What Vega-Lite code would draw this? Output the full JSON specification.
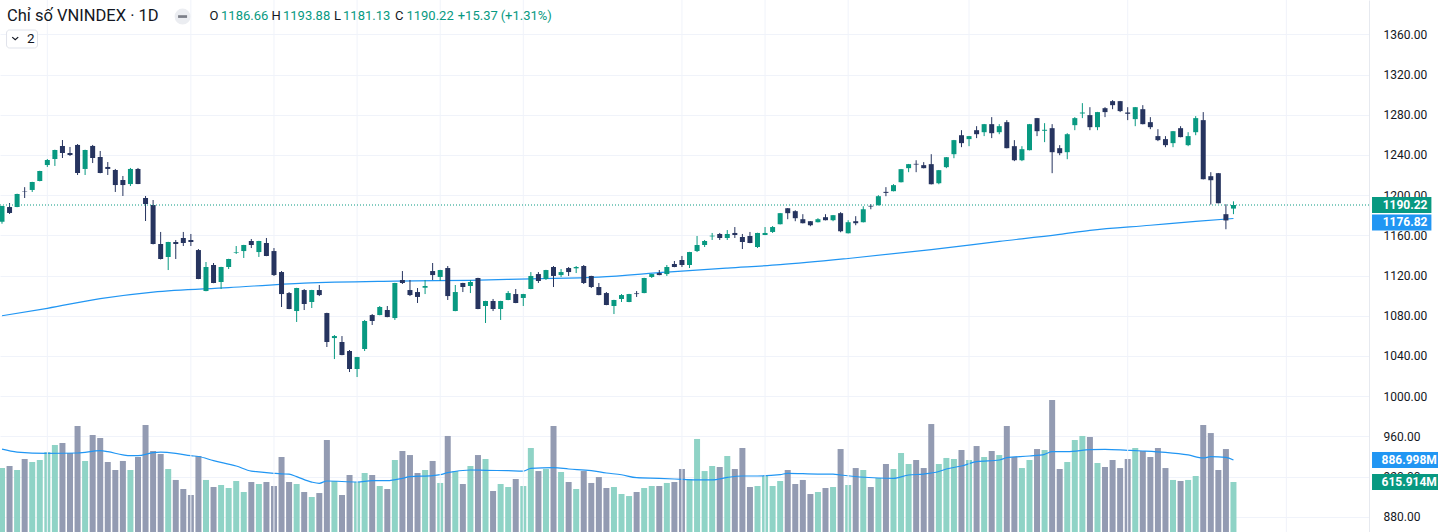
{
  "$schema": "https://vega.github.io/schema/vega-lite/v6.json",
  "width": 1369,
  "height": 532,
  "autosize": "none",
  "padding": {"left": 0, "top": 0, "right": 69, "bottom": 0},
  "background": "#ffffff",
  "config": {"view": {"stroke": null}, "font": "Roboto", "scale": {"continuousPadding": 0}},
  "datasets": {
    "candles": [
      {"i":0,"o":1173.6,"h":1189.5,"l":1171.6,"c":1189.2,"v":788},
      {"i":1,"o":1188.2,"h":1192.2,"l":1181.3,"c":1182.3,"v":813},
      {"i":2,"o":1188.2,"h":1201.5,"l":1188.0,"c":1201.2,"v":764},
      {"i":3,"o":1204.0,"h":1208.0,"l":1197.2,"c":1203.6,"v":899},
      {"i":4,"o":1205.2,"h":1213.3,"l":1203.2,"c":1213.1,"v":862},
      {"i":5,"o":1214.1,"h":1224.3,"l":1213.8,"c":1224.1,"v":887},
      {"i":6,"o":1230.0,"h":1236.0,"l":1228.1,"c":1235.0,"v":985},
      {"i":7,"o":1236.0,"h":1245.3,"l":1229.1,"c":1245.0,"v":1072},
      {"i":8,"o":1249.0,"h":1254.9,"l":1237.0,"c":1242.0,"v":1096},
      {"i":9,"o":1242.0,"h":1248.0,"l":1239.0,"c":1240.0,"v":973},
      {"i":10,"o":1250.0,"h":1250.9,"l":1220.1,"c":1222.1,"v":1306},
      {"i":11,"o":1226.1,"h":1245.3,"l":1220.1,"c":1245.0,"v":875},
      {"i":12,"o":1249.0,"h":1250.0,"l":1232.0,"c":1237.0,"v":1195},
      {"i":13,"o":1238.0,"h":1244.0,"l":1221.8,"c":1222.1,"v":1158},
      {"i":14,"o":1228.1,"h":1233.0,"l":1220.1,"c":1226.1,"v":862},
      {"i":15,"o":1225.1,"h":1226.1,"l":1203.2,"c":1210.1,"v":764},
      {"i":16,"o":1215.1,"h":1219.1,"l":1199.2,"c":1210.1,"v":875},
      {"i":17,"o":1211.1,"h":1227.1,"l":1209.1,"c":1226.1,"v":764},
      {"i":18,"o":1226.1,"h":1227.1,"l":1211.0,"c":1211.1,"v":924},
      {"i":19,"o":1197.2,"h":1199.2,"l":1174.3,"c":1191.2,"v":1318},
      {"i":20,"o":1190.2,"h":1195.2,"l":1151.0,"c":1151.4,"v":998},
      {"i":21,"o":1151.4,"h":1163.4,"l":1136.0,"c":1136.5,"v":961},
      {"i":22,"o":1138.5,"h":1153.6,"l":1125.5,"c":1153.4,"v":776},
      {"i":23,"o":1153.4,"h":1155.4,"l":1136.5,"c":1151.4,"v":641},
      {"i":24,"o":1157.4,"h":1163.4,"l":1149.4,"c":1152.4,"v":530},
      {"i":25,"o":1155.4,"h":1161.4,"l":1149.4,"c":1153.4,"v":456},
      {"i":26,"o":1145.4,"h":1146.4,"l":1116.4,"c":1116.6,"v":936},
      {"i":27,"o":1104.6,"h":1133.5,"l":1104.4,"c":1128.5,"v":641},
      {"i":28,"o":1130.5,"h":1132.5,"l":1112.4,"c":1112.6,"v":554},
      {"i":29,"o":1113.6,"h":1128.7,"l":1106.6,"c":1128.5,"v":579},
      {"i":30,"o":1128.5,"h":1136.7,"l":1126.5,"c":1136.5,"v":542},
      {"i":31,"o":1142.8,"h":1149.4,"l":1141.5,"c":1143.4,"v":628},
      {"i":32,"o":1144.4,"h":1150.6,"l":1137.5,"c":1150.4,"v":493},
      {"i":33,"o":1154.4,"h":1156.4,"l":1147.4,"c":1150.4,"v":616},
      {"i":34,"o":1143.4,"h":1154.6,"l":1138.5,"c":1154.4,"v":591},
      {"i":35,"o":1152.4,"h":1157.4,"l":1139.3,"c":1139.5,"v":616},
      {"i":36,"o":1144.4,"h":1147.4,"l":1119.6,"c":1120.5,"v":567},
      {"i":37,"o":1123.5,"h":1124.5,"l":1088.7,"c":1101.6,"v":924},
      {"i":38,"o":1102.6,"h":1103.6,"l":1086.5,"c":1086.7,"v":616},
      {"i":39,"o":1084.7,"h":1107.8,"l":1073.8,"c":1107.6,"v":591},
      {"i":40,"o":1105.6,"h":1106.6,"l":1085.7,"c":1091.7,"v":493},
      {"i":41,"o":1093.7,"h":1105.8,"l":1087.7,"c":1105.6,"v":431},
      {"i":42,"o":1105.6,"h":1110.6,"l":1099.6,"c":1100.6,"v":480},
      {"i":43,"o":1082.7,"h":1083.0,"l":1048.9,"c":1053.9,"v":1133},
      {"i":44,"o":1057.8,"h":1060.8,"l":1036.9,"c":1059.8,"v":628},
      {"i":45,"o":1053.9,"h":1059.8,"l":1040.7,"c":1040.9,"v":456},
      {"i":46,"o":1044.9,"h":1045.9,"l":1024.0,"c":1027.0,"v":702},
      {"i":47,"o":1027.0,"h":1039.1,"l":1019.0,"c":1038.9,"v":616},
      {"i":48,"o":1046.9,"h":1075.8,"l":1044.9,"c":1074.8,"v":727},
      {"i":49,"o":1080.7,"h":1081.7,"l":1070.8,"c":1074.8,"v":702},
      {"i":50,"o":1080.7,"h":1089.7,"l":1080.5,"c":1088.7,"v":567},
      {"i":51,"o":1085.7,"h":1089.7,"l":1078.5,"c":1078.7,"v":530},
      {"i":52,"o":1077.7,"h":1112.8,"l":1075.8,"c":1112.6,"v":887},
      {"i":53,"o":1115.6,"h":1124.5,"l":1111.6,"c":1112.6,"v":998},
      {"i":54,"o":1105.6,"h":1115.6,"l":1099.6,"c":1100.6,"v":948},
      {"i":55,"o":1103.6,"h":1107.6,"l":1092.7,"c":1098.7,"v":727},
      {"i":56,"o":1107.9,"h":1115.6,"l":1101.6,"c":1109.6,"v":764},
      {"i":57,"o":1124.5,"h":1132.5,"l":1115.6,"c":1120.5,"v":875},
      {"i":58,"o":1118.6,"h":1125.7,"l":1114.6,"c":1125.5,"v":604},
      {"i":59,"o":1127.5,"h":1129.5,"l":1095.7,"c":1099.6,"v":1183},
      {"i":60,"o":1084.7,"h":1110.6,"l":1084.5,"c":1103.6,"v":751},
      {"i":61,"o":1112.6,"h":1112.8,"l":1103.6,"c":1108.6,"v":591},
      {"i":62,"o":1109.6,"h":1115.6,"l":1102.6,"c":1113.6,"v":813},
      {"i":63,"o":1117.6,"h":1117.8,"l":1086.5,"c":1086.7,"v":948},
      {"i":64,"o":1089.7,"h":1094.9,"l":1072.8,"c":1094.7,"v":899},
      {"i":65,"o":1094.7,"h":1096.7,"l":1084.7,"c":1086.7,"v":505},
      {"i":66,"o":1086.7,"h":1094.9,"l":1075.8,"c":1094.7,"v":591},
      {"i":67,"o":1095.7,"h":1104.6,"l":1095.5,"c":1102.6,"v":554},
      {"i":68,"o":1101.6,"h":1106.6,"l":1092.5,"c":1092.7,"v":653},
      {"i":69,"o":1097.7,"h":1101.8,"l":1089.7,"c":1101.6,"v":567},
      {"i":70,"o":1106.6,"h":1123.5,"l":1106.4,"c":1119.6,"v":1035},
      {"i":71,"o":1121.5,"h":1123.5,"l":1112.6,"c":1114.6,"v":751},
      {"i":72,"o":1116.6,"h":1125.7,"l":1115.6,"c":1125.5,"v":776},
      {"i":73,"o":1128.5,"h":1129.5,"l":1108.6,"c":1119.6,"v":1306},
      {"i":74,"o":1120.5,"h":1126.5,"l":1118.6,"c":1123.5,"v":739},
      {"i":75,"o":1127.5,"h":1128.5,"l":1119.6,"c":1123.5,"v":616},
      {"i":76,"o":1127.2,"h":1129.5,"l":1122.5,"c":1128.5,"v":530},
      {"i":77,"o":1129.5,"h":1130.5,"l":1111.6,"c":1112.6,"v":751},
      {"i":78,"o":1119.6,"h":1119.8,"l":1107.6,"c":1108.6,"v":604},
      {"i":79,"o":1108.6,"h":1112.6,"l":1100.4,"c":1100.6,"v":677},
      {"i":80,"o":1102.6,"h":1103.6,"l":1090.5,"c":1090.7,"v":542},
      {"i":81,"o":1089.7,"h":1095.9,"l":1081.7,"c":1095.7,"v":554},
      {"i":82,"o":1096.7,"h":1101.6,"l":1093.7,"c":1100.6,"v":468},
      {"i":83,"o":1093.7,"h":1101.8,"l":1093.5,"c":1101.6,"v":443},
      {"i":84,"o":1102.3,"h":1104.6,"l":1098.7,"c":1101.6,"v":493},
      {"i":85,"o":1102.6,"h":1117.8,"l":1102.4,"c":1117.6,"v":542},
      {"i":86,"o":1118.6,"h":1121.7,"l":1117.6,"c":1121.5,"v":567},
      {"i":87,"o":1122.5,"h":1125.5,"l":1120.3,"c":1120.5,"v":567},
      {"i":88,"o":1121.5,"h":1130.5,"l":1119.6,"c":1128.5,"v":604},
      {"i":89,"o":1131.5,"h":1134.5,"l":1128.3,"c":1128.5,"v":616},
      {"i":90,"o":1135.5,"h":1139.5,"l":1128.5,"c":1130.5,"v":776},
      {"i":91,"o":1130.5,"h":1143.6,"l":1127.5,"c":1143.4,"v":653},
      {"i":92,"o":1144.4,"h":1159.4,"l":1143.4,"c":1150.4,"v":1146},
      {"i":93,"o":1150.4,"h":1155.4,"l":1148.4,"c":1154.4,"v":751},
      {"i":94,"o":1159.0,"h":1162.4,"l":1155.4,"c":1159.7,"v":813},
      {"i":95,"o":1161.4,"h":1162.4,"l":1155.4,"c":1157.4,"v":801},
      {"i":96,"o":1157.4,"h":1165.3,"l":1155.4,"c":1161.4,"v":936},
      {"i":97,"o":1162.4,"h":1168.3,"l":1157.4,"c":1160.4,"v":776},
      {"i":98,"o":1158.4,"h":1161.4,"l":1146.4,"c":1153.4,"v":1035},
      {"i":99,"o":1159.4,"h":1163.4,"l":1152.2,"c":1152.4,"v":554},
      {"i":100,"o":1148.4,"h":1162.6,"l":1147.4,"c":1162.4,"v":567},
      {"i":101,"o":1160.4,"h":1168.3,"l":1160.2,"c":1162.4,"v":690},
      {"i":102,"o":1163.4,"h":1169.3,"l":1162.4,"c":1168.3,"v":567},
      {"i":103,"o":1171.1,"h":1182.3,"l":1170.9,"c":1182.1,"v":628},
      {"i":104,"o":1187.0,"h":1187.2,"l":1176.1,"c":1182.1,"v":764},
      {"i":105,"o":1184.1,"h":1185.0,"l":1174.1,"c":1177.1,"v":591},
      {"i":106,"o":1176.1,"h":1181.1,"l":1171.9,"c":1172.1,"v":641},
      {"i":107,"o":1174.1,"h":1174.3,"l":1169.1,"c":1170.1,"v":468},
      {"i":108,"o":1173.1,"h":1177.1,"l":1172.9,"c":1176.1,"v":493},
      {"i":109,"o":1178.1,"h":1181.1,"l":1174.9,"c":1175.1,"v":542},
      {"i":110,"o":1175.1,"h":1180.3,"l":1174.1,"c":1180.1,"v":554},
      {"i":111,"o":1182.1,"h":1183.1,"l":1163.1,"c":1164.1,"v":1022},
      {"i":112,"o":1162.1,"h":1175.1,"l":1161.9,"c":1173.1,"v":579},
      {"i":113,"o":1174.1,"h":1179.1,"l":1170.1,"c":1172.1,"v":788},
      {"i":114,"o":1173.1,"h":1189.0,"l":1172.9,"c":1186.0,"v":764},
      {"i":115,"o":1189.4,"h":1191.0,"l":1186.0,"c":1188.7,"v":554},
      {"i":116,"o":1190.0,"h":1200.0,"l":1189.8,"c":1199.0,"v":665},
      {"i":117,"o":1203.3,"h":1208.0,"l":1199.0,"c":1202.3,"v":838},
      {"i":118,"o":1204.0,"h":1211.0,"l":1203.8,"c":1210.0,"v":776},
      {"i":119,"o":1212.9,"h":1226.1,"l":1212.7,"c":1225.9,"v":973},
      {"i":120,"o":1226.9,"h":1231.1,"l":1222.9,"c":1230.9,"v":838},
      {"i":121,"o":1231.2,"h":1234.8,"l":1222.9,"c":1230.5,"v":887},
      {"i":122,"o":1229.9,"h":1232.9,"l":1226.7,"c":1226.9,"v":788},
      {"i":123,"o":1230.9,"h":1240.8,"l":1210.7,"c":1210.9,"v":1330},
      {"i":124,"o":1211.9,"h":1225.1,"l":1210.9,"c":1224.9,"v":838},
      {"i":125,"o":1227.9,"h":1238.0,"l":1226.9,"c":1237.8,"v":912},
      {"i":126,"o":1240.8,"h":1255.0,"l":1236.8,"c":1254.8,"v":899},
      {"i":127,"o":1259.7,"h":1264.7,"l":1247.8,"c":1251.8,"v":1010},
      {"i":128,"o":1255.8,"h":1259.0,"l":1248.8,"c":1258.8,"v":887},
      {"i":129,"o":1264.7,"h":1268.7,"l":1256.8,"c":1260.7,"v":1059},
      {"i":130,"o":1262.7,"h":1270.9,"l":1258.8,"c":1270.7,"v":924},
      {"i":131,"o":1270.7,"h":1277.7,"l":1256.8,"c":1261.7,"v":998},
      {"i":132,"o":1262.7,"h":1270.7,"l":1260.7,"c":1268.7,"v":948},
      {"i":133,"o":1272.7,"h":1274.7,"l":1246.6,"c":1246.8,"v":1306},
      {"i":134,"o":1248.8,"h":1254.8,"l":1233.9,"c":1234.8,"v":924},
      {"i":135,"o":1234.8,"h":1248.8,"l":1233.9,"c":1245.8,"v":788},
      {"i":136,"o":1244.8,"h":1270.9,"l":1244.6,"c":1270.7,"v":887},
      {"i":137,"o":1276.7,"h":1276.9,"l":1258.8,"c":1263.7,"v":1022},
      {"i":138,"o":1264.1,"h":1271.7,"l":1252.8,"c":1265.1,"v":1010},
      {"i":139,"o":1266.7,"h":1270.7,"l":1221.9,"c":1242.8,"v":1626},
      {"i":140,"o":1246.8,"h":1249.8,"l":1239.8,"c":1241.8,"v":776},
      {"i":141,"o":1242.8,"h":1261.7,"l":1235.8,"c":1260.7,"v":862},
      {"i":142,"o":1269.7,"h":1277.7,"l":1264.7,"c":1276.7,"v":1133},
      {"i":143,"o":1281.3,"h":1291.6,"l":1276.7,"c":1282.3,"v":1183},
      {"i":144,"o":1279.7,"h":1287.6,"l":1264.7,"c":1267.7,"v":1170},
      {"i":145,"o":1267.7,"h":1282.9,"l":1264.7,"c":1282.7,"v":850},
      {"i":146,"o":1286.6,"h":1287.6,"l":1277.7,"c":1282.7,"v":801},
      {"i":147,"o":1293.6,"h":1294.6,"l":1285.6,"c":1289.6,"v":887},
      {"i":148,"o":1293.6,"h":1293.8,"l":1282.7,"c":1283.7,"v":788},
      {"i":149,"o":1282.3,"h":1287.6,"l":1274.7,"c":1281.0,"v":899},
      {"i":150,"o":1275.7,"h":1287.8,"l":1268.7,"c":1287.6,"v":1035},
      {"i":151,"o":1285.6,"h":1289.6,"l":1270.5,"c":1270.7,"v":998},
      {"i":152,"o":1272.7,"h":1277.7,"l":1265.7,"c":1267.7,"v":924},
      {"i":153,"o":1258.8,"h":1265.7,"l":1253.8,"c":1254.8,"v":1035},
      {"i":154,"o":1255.8,"h":1258.8,"l":1247.8,"c":1249.8,"v":788},
      {"i":155,"o":1251.8,"h":1263.9,"l":1247.8,"c":1263.7,"v":641},
      {"i":156,"o":1266.7,"h":1268.7,"l":1257.6,"c":1257.8,"v":628},
      {"i":157,"o":1249.8,"h":1262.7,"l":1248.8,"c":1258.8,"v":641},
      {"i":158,"o":1262.7,"h":1278.7,"l":1259.7,"c":1276.7,"v":690},
      {"i":159,"o":1274.7,"h":1282.7,"l":1215.7,"c":1215.9,"v":1318},
      {"i":160,"o":1218.9,"h":1222.9,"l":1190.7,"c":1214.9,"v":1219},
      {"i":161,"o":1221.9,"h":1222.1,"l":1191.8,"c":1192.0,"v":764},
      {"i":162,"o":1181.1,"h":1191.0,"l":1166.1,"c":1174.85,"v":1022},
      {"i":163,"o":1186.66,"h":1193.88,"l":1181.13,"c":1190.22,"v":615.914}
    ],
    "ma": [
      {"i":0,"m":1080.0},{"i":6,"m":1087.4},{"i":13,"m":1097.0},{"i":20,"m":1103.5},
      {"i":30,"m":1108.0},{"i":40,"m":1112.5},{"i":52,"m":1114.5},{"i":62,"m":1115.3},
      {"i":70,"m":1116.8},{"i":79,"m":1118.5},{"i":88,"m":1123.5},{"i":96,"m":1127.5},
      {"i":103,"m":1130.8},{"i":112,"m":1137.0},{"i":123,"m":1145.9},{"i":132,"m":1154.0},
      {"i":140,"m":1161.0},{"i":144,"m":1165.0},{"i":152,"m":1170.1},{"i":158,"m":1174.0},
      {"i":163,"m":1176.82}
    ],
    "vma": [
      {"i":0,"v":1020},{"i":2,"v":985},{"i":6,"v":969},{"i":10,"v":973},{"i":13,"v":1002},
      {"i":14,"v":990},{"i":16,"v":950},{"i":17,"v":940},{"i":18,"v":940},{"i":20,"v":977},
      {"i":21,"v":983},{"i":23,"v":969},{"i":25,"v":940},{"i":26,"v":930},{"i":28,"v":879},
      {"i":31,"v":813},{"i":33,"v":750},{"i":34,"v":740},{"i":36,"v":723},{"i":37,"v":716},
      {"i":38,"v":712},{"i":39,"v":682},{"i":41,"v":615},{"i":42,"v":600},{"i":43,"v":628},
      {"i":47,"v":616},{"i":49,"v":632},{"i":51,"v":632},{"i":53,"v":661},{"i":54,"v":682},
      {"i":57,"v":694},{"i":58,"v":706},{"i":59,"v":731},{"i":62,"v":764},{"i":64,"v":760},
      {"i":67,"v":755},{"i":69,"v":751},{"i":70,"v":784},{"i":73,"v":792},{"i":75,"v":776},
      {"i":78,"v":755},{"i":80,"v":727},{"i":82,"v":705},{"i":84,"v":669},{"i":87,"v":661},
      {"i":90,"v":649},{"i":92,"v":641},{"i":94,"v":641},{"i":96,"v":673},{"i":98,"v":690},
      {"i":100,"v":690},{"i":103,"v":706},{"i":104,"v":723},{"i":108,"v":714},{"i":110,"v":714},
      {"i":111,"v":702},{"i":116,"v":665},{"i":118,"v":661},{"i":120,"v":702},{"i":122,"v":714},
      {"i":124,"v":745},{"i":125,"v":776},{"i":127,"v":813},{"i":129,"v":866},{"i":132,"v":887},
      {"i":133,"v":916},{"i":136,"v":936},{"i":138,"v":957},{"i":139,"v":990},{"i":141,"v":990},
      {"i":144,"v":1014},{"i":146,"v":1018},{"i":149,"v":1006},{"i":151,"v":998},{"i":154,"v":981},
      {"i":157,"v":949},{"i":159,"v":912},{"i":160,"v":928},{"i":162,"v":920},{"i":163,"v":886.998}
    ],
    "grid": [
      {"i":6},{"i":25},{"i":36},{"i":47},{"i":58},{"i":69},{"i":90},{"i":101},{"i":112},{"i":128},{"i":149},{"i":170}
    ],
    "lastPrice": [{"p":1190.22,"t":"1190.22"}],
    "lastMa": [{"p":1176.82,"t":"1176.82"}],
    "lastVol": [{"v":615.914,"t":"615.914M"}],
    "lastVma": [{"v":886.998,"t":"886.998M"}],
    "one": [{}]
  },
  "resolve": {"scale": {"y": "independent"}},
  "layer": [
    {
      "layer": [
        {
          "data": {"name": "candles"},
          "mark": {"type": "bar", "width": 6},
          "encoding": {
            "x": {"field": "i", "type": "quantitative", "scale": {"domain": [-0.2647, 180.94], "nice": false, "zero": false, "padding": 0}, "axis": null},
            "y": {"field": "v", "type": "quantitative", "scale": {"domain": [0, 6553.3], "nice": false, "padding": 0}, "axis": null},
            "color": {"condition": {"test": "datum.c >= datum.o", "value": "#8fd3c6"}, "value": "#939bb2"}
          }
        },
        {
          "data": {"name": "vma"},
          "mark": {"type": "line", "color": "#2196f3", "strokeWidth": 1.2, "interpolate": "monotone"},
          "encoding": {
            "x": {"field": "i", "type": "quantitative", "scale": {"domain": [-0.2647, 180.94], "nice": false, "zero": false, "padding": 0}, "axis": null},
            "y": {"field": "v", "type": "quantitative", "scale": {"domain": [0, 6553.3], "nice": false, "padding": 0}, "axis": null}
          }
        },
        {
          "data": {"name": "lastVma"},
          "mark": {"type": "bar", "height": 16, "color": "#2196f3"},
          "encoding": {
            "x": {"datum": 181.34, "type": "quantitative", "scale": {"domain": [-0.2647, 180.94], "nice": false, "zero": false, "padding": 0}},
            "x2": {"datum": 190.1},
            "y": {"field": "v", "type": "quantitative", "scale": {"domain": [0, 6553.3], "nice": false, "padding": 0}, "axis": null}
          }
        },
        {
          "data": {"name": "lastVma"},
          "mark": {"type": "text", "align": "left", "baseline": "middle", "color": "#ffffff", "fontWeight": "bold", "fontSize": 12},
          "encoding": {
            "x": {"datum": 182.6, "type": "quantitative", "scale": {"domain": [-0.2647, 180.94], "nice": false, "zero": false, "padding": 0}},
            "y": {"field": "v", "type": "quantitative", "scale": {"domain": [0, 6553.3], "nice": false, "padding": 0}, "axis": null},
            "text": {"field": "t"}
          }
        },
        {
          "data": {"name": "lastVol"},
          "mark": {"type": "bar", "height": 16, "color": "#089981"},
          "encoding": {
            "x": {"datum": 181.34, "type": "quantitative", "scale": {"domain": [-0.2647, 180.94], "nice": false, "zero": false, "padding": 0}},
            "x2": {"datum": 190.1},
            "y": {"field": "v", "type": "quantitative", "scale": {"domain": [0, 6553.3], "nice": false, "padding": 0}, "axis": null}
          }
        },
        {
          "data": {"name": "lastVol"},
          "mark": {"type": "text", "align": "left", "baseline": "middle", "color": "#ffffff", "fontWeight": "bold", "fontSize": 12},
          "encoding": {
            "x": {"datum": 182.6, "type": "quantitative", "scale": {"domain": [-0.2647, 180.94], "nice": false, "zero": false, "padding": 0}},
            "y": {"field": "v", "type": "quantitative", "scale": {"domain": [0, 6553.3], "nice": false, "padding": 0}, "axis": null},
            "text": {"field": "t"}
          }
        }
      ]
    },
    {
      "layer": [
        {
          "data": {"name": "grid"},
          "mark": {"type": "rule", "color": "#f0f3fa", "strokeWidth": 1},
          "encoding": {
            "x": {"field": "i", "type": "quantitative", "scale": {"domain": [-0.2647, 180.94], "nice": false, "zero": false, "padding": 0}, "axis": null}
          }
        },
        {
          "data": {"name": "ma"},
          "mark": {"type": "line", "color": "#2196f3", "strokeWidth": 1.2, "interpolate": "monotone"},
          "encoding": {
            "x": {"field": "i", "type": "quantitative", "scale": {"domain": [-0.2647, 180.94], "nice": false, "zero": false, "padding": 0}, "axis": null},
            "y": {"field": "m", "type": "quantitative", "scale": {"domain": [864.77, 1394.27], "nice": false, "zero": false, "padding": 0},
              "axis": {"orient": "right", "values": [880, 920, 960, 1000, 1040, 1080, 1120, 1160, 1200, 1240, 1280, 1320, 1360], "format": ".2f", "grid": true, "gridColor": "#f0f3fa", "domain": true, "domainColor": "#e6e9ef", "ticks": false, "labelPadding": 14, "labelFontSize": 12, "labelColor": "#131722", "labelFont": "Roboto", "title": null, "labelOverlap": false, "labelBound": false, "labelFlush": false}}
          }
        },
        {
          "data": {"name": "candles"},
          "mark": {"type": "rule", "strokeWidth": 1},
          "encoding": {
            "x": {"field": "i", "type": "quantitative", "scale": {"domain": [-0.2647, 180.94], "nice": false, "zero": false, "padding": 0}, "axis": null},
            "y": {"field": "l", "type": "quantitative", "scale": {"domain": [864.77, 1394.27], "nice": false, "zero": false, "padding": 0}},
            "y2": {"field": "h"},
            "color": {"condition": {"test": "datum.c >= datum.o", "value": "#089981"}, "value": "#26345f"}
          }
        },
        {
          "data": {"name": "candles"},
          "mark": {"type": "bar", "width": 5},
          "encoding": {
            "x": {"field": "i", "type": "quantitative", "scale": {"domain": [-0.2647, 180.94], "nice": false, "zero": false, "padding": 0}, "axis": null},
            "y": {"field": "o", "type": "quantitative", "scale": {"domain": [864.77, 1394.27], "nice": false, "zero": false, "padding": 0}},
            "y2": {"field": "c"},
            "color": {"condition": {"test": "datum.c >= datum.o", "value": "#089981"}, "value": "#26345f"}
          }
        },
        {
          "data": {"name": "lastPrice"},
          "mark": {"type": "rule", "color": "#089981", "strokeWidth": 1, "strokeDash": [1, 2]},
          "encoding": {
            "y": {"field": "p", "type": "quantitative", "scale": {"domain": [864.77, 1394.27], "nice": false, "zero": false, "padding": 0}}
          }
        },
        {
          "data": {"name": "lastPrice"},
          "mark": {"type": "bar", "height": 16, "color": "#089981"},
          "encoding": {
            "x": {"datum": 181.34, "type": "quantitative", "scale": {"domain": [-0.2647, 180.94], "nice": false, "zero": false, "padding": 0}},
            "x2": {"datum": 189.2},
            "y": {"field": "p", "type": "quantitative", "scale": {"domain": [864.77, 1394.27], "nice": false, "zero": false, "padding": 0}}
          }
        },
        {
          "data": {"name": "lastPrice"},
          "mark": {"type": "text", "align": "left", "baseline": "middle", "color": "#ffffff", "fontWeight": "bold", "fontSize": 12},
          "encoding": {
            "x": {"datum": 182.75, "type": "quantitative", "scale": {"domain": [-0.2647, 180.94], "nice": false, "zero": false, "padding": 0}},
            "y": {"field": "p", "type": "quantitative", "scale": {"domain": [864.77, 1394.27], "nice": false, "zero": false, "padding": 0}},
            "text": {"field": "t"}
          }
        },
        {
          "data": {"name": "lastMa"},
          "mark": {"type": "bar", "height": 16, "color": "#2196f3", "yOffset": 4},
          "encoding": {
            "x": {"datum": 181.34, "type": "quantitative", "scale": {"domain": [-0.2647, 180.94], "nice": false, "zero": false, "padding": 0}},
            "x2": {"datum": 189.2},
            "y": {"field": "p", "type": "quantitative", "scale": {"domain": [864.77, 1394.27], "nice": false, "zero": false, "padding": 0}}
          }
        },
        {
          "data": {"name": "lastMa"},
          "mark": {"type": "text", "align": "left", "baseline": "middle", "color": "#ffffff", "fontWeight": "bold", "fontSize": 12, "yOffset": 4},
          "encoding": {
            "x": {"datum": 182.75, "type": "quantitative", "scale": {"domain": [-0.2647, 180.94], "nice": false, "zero": false, "padding": 0}},
            "y": {"field": "p", "type": "quantitative", "scale": {"domain": [864.77, 1394.27], "nice": false, "zero": false, "padding": 0}},
            "text": {"field": "t"}
          }
        },
        {
          "data": {"name": "one"},
          "mark": {"type": "text", "align": "left", "baseline": "middle", "color": "#131722", "fontSize": 16.5},
          "encoding": {
            "x": {"datum": 0.66, "type": "quantitative", "scale": {"domain": [-0.2647, 180.94], "nice": false, "zero": false, "padding": 0}},
            "y": {"datum": 1378.3, "type": "quantitative", "scale": {"domain": [864.77, 1394.27], "nice": false, "zero": false, "padding": 0}},
            "text": {"value": "Chỉ số VNINDEX · 1D"}
          }
        },
        {
          "data": {"name": "one"},
          "mark": {"type": "point", "shape": "circle", "filled": true, "color": "#ebedf1", "size": 254, "opacity": 1},
          "encoding": {
            "x": {"datum": 23.9, "type": "quantitative", "scale": {"domain": [-0.2647, 180.94], "nice": false, "zero": false, "padding": 0}},
            "y": {"datum": 1377.8, "type": "quantitative", "scale": {"domain": [864.77, 1394.27], "nice": false, "zero": false, "padding": 0}}
          }
        },
        {
          "data": {"name": "one"},
          "mark": {"type": "point", "shape": "M-1,-0.3L1,-0.3L1,0.3L-1,0.3Z", "filled": true, "color": "#7c7f88", "size": 81, "opacity": 1},
          "encoding": {
            "x": {"datum": 23.9, "type": "quantitative", "scale": {"domain": [-0.2647, 180.94], "nice": false, "zero": false, "padding": 0}},
            "y": {"datum": 1377.8, "type": "quantitative", "scale": {"domain": [864.77, 1394.27], "nice": false, "zero": false, "padding": 0}}
          }
        },
        {
          "data": {"name": "one"},
          "mark": {"type": "text", "align": "left", "baseline": "middle", "color": "#131722", "fontSize": 13},
          "encoding": {
            "x": {"datum": 27.46, "type": "quantitative", "scale": {"domain": [-0.2647, 180.94], "nice": false, "zero": false, "padding": 0}},
            "y": {"datum": 1378.3, "type": "quantitative", "scale": {"domain": [864.77, 1394.27], "nice": false, "zero": false, "padding": 0}},
            "text": {"value": "O"}
          }
        },
        {
          "data": {"name": "one"},
          "mark": {"type": "text", "align": "left", "baseline": "middle", "color": "#089981", "fontSize": 13},
          "encoding": {
            "x": {"datum": 28.99, "type": "quantitative", "scale": {"domain": [-0.2647, 180.94], "nice": false, "zero": false, "padding": 0}},
            "y": {"datum": 1378.3, "type": "quantitative", "scale": {"domain": [864.77, 1394.27], "nice": false, "zero": false, "padding": 0}},
            "text": {"value": "1186.66"}
          }
        },
        {
          "data": {"name": "one"},
          "mark": {"type": "text", "align": "left", "baseline": "middle", "color": "#131722", "fontSize": 13},
          "encoding": {
            "x": {"datum": 35.67, "type": "quantitative", "scale": {"domain": [-0.2647, 180.94], "nice": false, "zero": false, "padding": 0}},
            "y": {"datum": 1378.3, "type": "quantitative", "scale": {"domain": [864.77, 1394.27], "nice": false, "zero": false, "padding": 0}},
            "text": {"value": "H"}
          }
        },
        {
          "data": {"name": "one"},
          "mark": {"type": "text", "align": "left", "baseline": "middle", "color": "#089981", "fontSize": 13},
          "encoding": {
            "x": {"datum": 37.19, "type": "quantitative", "scale": {"domain": [-0.2647, 180.94], "nice": false, "zero": false, "padding": 0}},
            "y": {"datum": 1378.3, "type": "quantitative", "scale": {"domain": [864.77, 1394.27], "nice": false, "zero": false, "padding": 0}},
            "text": {"value": "1193.88"}
          }
        },
        {
          "data": {"name": "one"},
          "mark": {"type": "text", "align": "left", "baseline": "middle", "color": "#131722", "fontSize": 13},
          "encoding": {
            "x": {"datum": 43.94, "type": "quantitative", "scale": {"domain": [-0.2647, 180.94], "nice": false, "zero": false, "padding": 0}},
            "y": {"datum": 1378.3, "type": "quantitative", "scale": {"domain": [864.77, 1394.27], "nice": false, "zero": false, "padding": 0}},
            "text": {"value": "L"}
          }
        },
        {
          "data": {"name": "one"},
          "mark": {"type": "text", "align": "left", "baseline": "middle", "color": "#089981", "fontSize": 13},
          "encoding": {
            "x": {"datum": 45.14, "type": "quantitative", "scale": {"domain": [-0.2647, 180.94], "nice": false, "zero": false, "padding": 0}},
            "y": {"datum": 1378.3, "type": "quantitative", "scale": {"domain": [864.77, 1394.27], "nice": false, "zero": false, "padding": 0}},
            "text": {"value": "1181.13"}
          }
        },
        {
          "data": {"name": "one"},
          "mark": {"type": "text", "align": "left", "baseline": "middle", "color": "#131722", "fontSize": 13},
          "encoding": {
            "x": {"datum": 52.02, "type": "quantitative", "scale": {"domain": [-0.2647, 180.94], "nice": false, "zero": false, "padding": 0}},
            "y": {"datum": 1378.3, "type": "quantitative", "scale": {"domain": [864.77, 1394.27], "nice": false, "zero": false, "padding": 0}},
            "text": {"value": "C"}
          }
        },
        {
          "data": {"name": "one"},
          "mark": {"type": "text", "align": "left", "baseline": "middle", "color": "#089981", "fontSize": 13},
          "encoding": {
            "x": {"datum": 53.53, "type": "quantitative", "scale": {"domain": [-0.2647, 180.94], "nice": false, "zero": false, "padding": 0}},
            "y": {"datum": 1378.3, "type": "quantitative", "scale": {"domain": [864.77, 1394.27], "nice": false, "zero": false, "padding": 0}},
            "text": {"value": "1190.22"}
          }
        },
        {
          "data": {"name": "one"},
          "mark": {"type": "text", "align": "left", "baseline": "middle", "color": "#089981", "fontSize": 13},
          "encoding": {
            "x": {"datum": 60.32, "type": "quantitative", "scale": {"domain": [-0.2647, 180.94], "nice": false, "zero": false, "padding": 0}},
            "y": {"datum": 1378.3, "type": "quantitative", "scale": {"domain": [864.77, 1394.27], "nice": false, "zero": false, "padding": 0}},
            "text": {"value": "+15.37"}
          }
        },
        {
          "data": {"name": "one"},
          "mark": {"type": "text", "align": "left", "baseline": "middle", "color": "#089981", "fontSize": 13},
          "encoding": {
            "x": {"datum": 66.0, "type": "quantitative", "scale": {"domain": [-0.2647, 180.94], "nice": false, "zero": false, "padding": 0}},
            "y": {"datum": 1378.3, "type": "quantitative", "scale": {"domain": [864.77, 1394.27], "nice": false, "zero": false, "padding": 0}},
            "text": {"value": "(+1.31%)"}
          }
        },
        {
          "data": {"name": "one"},
          "mark": {"type": "rect", "fill": "#ffffff", "stroke": "#e0e3eb", "strokeWidth": 1, "cornerRadius": 3},
          "encoding": {
            "x": {"datum": 0.6, "type": "quantitative", "scale": {"domain": [-0.2647, 180.94], "nice": false, "zero": false, "padding": 0}},
            "x2": {"datum": 4.7},
            "y": {"datum": 1364.4, "type": "quantitative", "scale": {"domain": [864.77, 1394.27], "nice": false, "zero": false, "padding": 0}},
            "y2": {"datum": 1346.5}
          }
        },
        {
          "data": {"name": "one"},
          "mark": {"type": "point", "shape": "M-1,-0.45L0,0.45L1,-0.45", "filled": false, "color": "#131722", "strokeWidth": 1.2, "size": 36, "opacity": 1},
          "encoding": {
            "x": {"datum": 1.75, "type": "quantitative", "scale": {"domain": [-0.2647, 180.94], "nice": false, "zero": false, "padding": 0}},
            "y": {"datum": 1356.0, "type": "quantitative", "scale": {"domain": [864.77, 1394.27], "nice": false, "zero": false, "padding": 0}}
          }
        },
        {
          "data": {"name": "one"},
          "mark": {"type": "text", "align": "left", "baseline": "middle", "color": "#131722", "fontSize": 13.5},
          "encoding": {
            "x": {"datum": 3.3, "type": "quantitative", "scale": {"domain": [-0.2647, 180.94], "nice": false, "zero": false, "padding": 0}},
            "y": {"datum": 1355.5, "type": "quantitative", "scale": {"domain": [864.77, 1394.27], "nice": false, "zero": false, "padding": 0}},
            "text": {"value": "2"}
          }
        }
      ]
    }
  ]
}
